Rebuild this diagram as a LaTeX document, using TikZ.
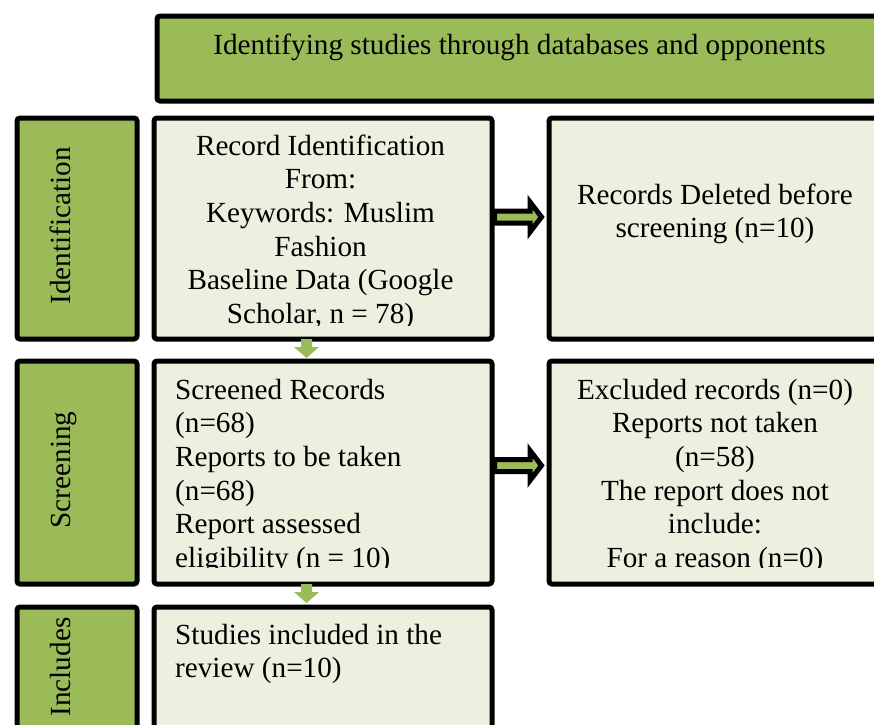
\documentclass[tikz,border=0pt]{standalone}
\usepackage{fontspec}
\setmainfont{Liberation Serif}
\definecolor{dkgreen}{HTML}{9BBB59}
\definecolor{ltgreen}{HTML}{EBF1DE}
\tikzset{
  boxbase/.style={draw=black, line width=5pt, rounded corners=3pt, inner sep=0pt, anchor=north west},
  phasebox/.style={boxbase, fill=dkgreen},
  infobox/.style={boxbase, fill=ltgreen},
  txt/.style={inner sep=0pt, font=\fontsize{29.2}{33.6}\selectfont},
  fatarrow/.style={draw=black, fill=dkgreen, line width=5pt, line join=miter},
  thinarrow/.style={fill=dkgreen, draw=none}
}
\begin{document}
\begin{tikzpicture}[x=1pt,y=-1pt]
\useasboundingbox (0,0) rectangle (874,724);
\clip (0,0) rectangle (874,724);
\fill[white] (0,0) rectangle (874,724);

% banner
\node[phasebox, minimum width=735.5pt, minimum height=85pt] (banner) at (154.5,13.5) {};
\node[txt, anchor=base] (bannertxt) at (519.5,54) {Identifying studies through databases and opponents};

% left phase boxes
\node[phasebox, minimum width=120pt, minimum height=221pt] (p1) at (14.5,115.5) {};
\node[phasebox, minimum width=120pt, minimum height=223pt] (p2) at (14.5,358.5) {};
\node[phasebox, minimum width=120pt, minimum height=160pt] (p3) at (14.5,604.5) {};
\node[txt, anchor=base, rotate=90] (p1t) at (70,226) {Identification};
\node[txt, anchor=base, rotate=90] (p2t) at (70,470) {Screening};
\node[txt, anchor=base, rotate=90] (p3t) at (70,667) {Includes};

% middle boxes
\node[infobox, minimum width=338pt, minimum height=221pt] (m1) at (151.5,115.5) {};
\node[infobox, minimum width=338pt, minimum height=223pt] (m2) at (151.5,358.5) {};
\node[infobox, minimum width=338pt, minimum height=160pt] (m3) at (151.5,604.5) {};

% right boxes
\node[infobox, minimum width=343.5pt, minimum height=221pt] (r1) at (546.5,115.5) {};
\node[infobox, minimum width=343.5pt, minimum height=223pt] (r2) at (546.5,358.5) {};

% texts (clipped like the source text boxes)
\begin{scope}
  \clip (154,118) rectangle (487,325);
  \node[txt, anchor=north, align=center] (m1t) at (320.5,131.5)
    {\strut Record Identification\\From:\\Keywords: Muslim\\Fashion\\Baseline Data (Google\\Scholar, n = 78)};
\end{scope}
\begin{scope}
  \clip (154,361) rectangle (487,567.5);
  \node[txt, anchor=north west, align=left] (m2t) at (175,375.5)
    {\strut Screened Records\\(n=68)\\Reports to be taken\\(n=68)\\Report assessed\\eligibility (n = 10)};
\end{scope}
\node[txt, anchor=north west, align=left] (m3t) at (175,620.5)
  {\strut Studies included in the\\review (n=10)};
\node[txt, anchor=north, align=center] (r1t) at (715,180.5)
  {\strut Records Deleted before\\screening (n=10)};
\begin{scope}
  \clip (549,361) rectangle (874,567.5);
  \node[txt, anchor=north, align=center] (r2t) at (715,375.5)
    {\strut Excluded records (n=0)\\Reports not taken\\(n=58)\\The report does not\\include:\\For a reason (n=0)};
\end{scope}

% fat arrows to the right
\coordinate (a1) at (m1.east |- 0,217);
\coordinate (a2) at (m2.east |- 0,465.5);
\foreach \a in {a1,a2}{
  \begin{scope}[shift={(\a)}]
    \draw[fatarrow] (0,-6) -- (35.5,-6) -- (35.5,-15) -- (47,0) -- (35.5,15) -- (35.5,6) -- (0,6) -- cycle;
  \end{scope}
}

% small green down arrows
\coordinate (d1) at (306.5,336.5);
\coordinate (d2) at (306.5,581.5);
\foreach \d in {d1,d2}{
  \begin{scope}[shift={(\d)}]
    \fill[thinarrow] (-5.5,2.5) -- (5.5,2.5) -- (5.5,10.5) -- (12.5,10.5) -- (0,21.5) -- (-12.5,10.5) -- (-5.5,10.5) -- cycle;
  \end{scope}
}
\end{tikzpicture}
\end{document}
